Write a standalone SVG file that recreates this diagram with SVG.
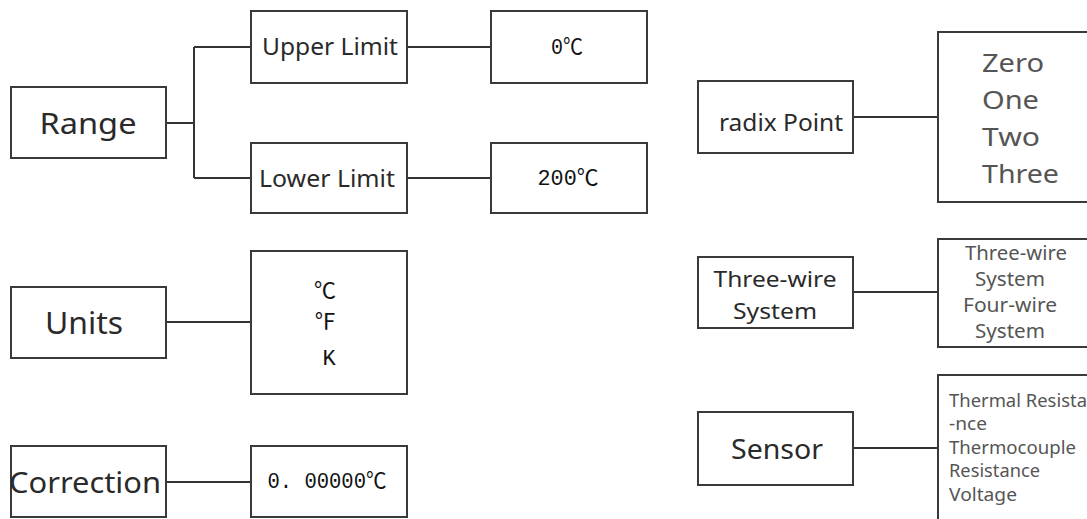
<svg xmlns="http://www.w3.org/2000/svg" width="1087" height="519" viewBox="0 0 1087 519">
<style>
.box{fill:#fff;stroke:#3a3a3a;stroke-width:2}
.ln{fill:none;stroke:#333;stroke-width:2}
text{dominant-baseline:central}
.t{font-family:"Noto Sans","Open Sans",sans-serif;fill:#2a2a2a;text-anchor:middle}
.m{font-family:"Liberation Mono","Noto Sans CJK SC",monospace;fill:#111;text-anchor:middle;font-size:22px}
.g{font-family:"Noto Sans","Open Sans",sans-serif;fill:#555}
</style>
<rect width="1087" height="519" fill="#fff"/>
<g id="connectors">
<path class="ln" d="M166 123H194M194 47V178M194 47H251M194 178H251"/>
<path class="ln" d="M407 47H491M407 178H491"/>
<path class="ln" d="M166 322H251M166 482H251"/>
<path class="ln" d="M853 117H938M853 292H938M853 448H938"/>
</g>
<g id="range"><rect class="box" x="11" y="87" width="155" height="71"/><text class="t" x="88" y="122" font-size="29" textLength="97" lengthAdjust="spacingAndGlyphs">Range</text></g>
<g id="upper"><rect class="box" x="251" y="11" width="156" height="72"/><text class="t" x="330" y="46" font-size="23" textLength="136" lengthAdjust="spacingAndGlyphs">Upper Limit</text></g>
<g id="lower"><rect class="box" x="251" y="143" width="156" height="70"/><text class="t" x="327" y="178" font-size="23" textLength="136" lengthAdjust="spacingAndGlyphs">Lower Limit</text></g>
<g id="v0"><rect class="box" x="491" y="11" width="156" height="72"/><text class="m" x="567" y="48" textLength="32" lengthAdjust="spacingAndGlyphs">0℃</text></g>
<g id="v200"><rect class="box" x="491" y="143" width="156" height="70"/><text class="m" x="568" y="179" textLength="61" lengthAdjust="spacingAndGlyphs">200℃</text></g>
<g id="units"><rect class="box" x="11" y="287" width="155" height="71"/><text class="t" x="84" y="322" font-size="30" textLength="78" lengthAdjust="spacingAndGlyphs">Units</text></g>
<g id="unitvals"><rect class="box" x="251" y="251" width="156" height="143"/><text class="m" x="325" y="292" textLength="22" lengthAdjust="spacingAndGlyphs">℃</text><text class="m" x="325" y="323" textLength="22" lengthAdjust="spacingAndGlyphs">℉</text><text class="m" x="329" y="359">K</text></g>
<g id="correction"><rect class="box" x="11" y="446" width="155" height="71"/><text class="t" x="85" y="481" font-size="29" textLength="152" lengthAdjust="spacingAndGlyphs">Correction</text></g>
<g id="corrval"><rect class="box" x="251" y="446" width="156" height="71"/><text class="m" x="327" y="482" textLength="119" lengthAdjust="spacingAndGlyphs">0. 00000℃</text></g>
<g id="radix"><rect class="box" x="698" y="81" width="155" height="72"/><text class="t" x="781" y="121" font-size="24" textLength="124" lengthAdjust="spacingAndGlyphs">radix Point</text></g>
<g id="radixvals"><rect class="box" x="938" y="32" width="160" height="170"/>
<text class="g" x="982" y="62" font-size="25" fill="#333" textLength="62" lengthAdjust="spacingAndGlyphs">Zero</text>
<text class="g" x="982" y="99" font-size="25" fill="#333" textLength="57" lengthAdjust="spacingAndGlyphs">One</text>
<text class="g" x="982" y="136" font-size="25" fill="#333" textLength="58" lengthAdjust="spacingAndGlyphs">Two</text>
<text class="g" x="982" y="173" font-size="25" fill="#333" textLength="77" lengthAdjust="spacingAndGlyphs">Three</text></g>
<g id="wire"><rect class="box" x="698" y="257" width="155" height="71"/><text class="t" x="775" y="278" font-size="22" fill="#333" textLength="123" lengthAdjust="spacingAndGlyphs">Three-wire</text><text class="t" x="775" y="310" font-size="22" fill="#333" textLength="84" lengthAdjust="spacingAndGlyphs">System</text></g>
<g id="wirevals"><rect class="box" x="938" y="239" width="160" height="108"/>
<text class="g" x="1016" y="253" font-size="19" text-anchor="middle" textLength="102" lengthAdjust="spacingAndGlyphs">Three-wire</text>
<text class="g" x="1010" y="279" font-size="19" text-anchor="middle" textLength="70" lengthAdjust="spacingAndGlyphs">System</text>
<text class="g" x="1010" y="305" font-size="19" text-anchor="middle" textLength="94" lengthAdjust="spacingAndGlyphs">Four-wire</text>
<text class="g" x="1010" y="331" font-size="19" text-anchor="middle" textLength="70" lengthAdjust="spacingAndGlyphs">System</text></g>
<g id="sensor"><rect class="box" x="698" y="412" width="155" height="73"/><text class="t" x="777" y="448" font-size="28" textLength="92" lengthAdjust="spacingAndGlyphs">Sensor</text></g>
<g id="sensorvals"><rect class="box" x="938" y="375" width="160" height="160"/>
<text class="g" x="949" y="400" font-size="18" textLength="138" lengthAdjust="spacingAndGlyphs">Thermal Resista</text>
<text class="g" x="949" y="423" font-size="18" textLength="38" lengthAdjust="spacingAndGlyphs">-nce</text>
<text class="g" x="949" y="447" font-size="18" textLength="127" lengthAdjust="spacingAndGlyphs">Thermocouple</text>
<text class="g" x="949" y="470" font-size="18" textLength="91" lengthAdjust="spacingAndGlyphs">Resistance</text>
<text class="g" x="949" y="494" font-size="18" textLength="68" lengthAdjust="spacingAndGlyphs">Voltage</text></g>
</svg>
